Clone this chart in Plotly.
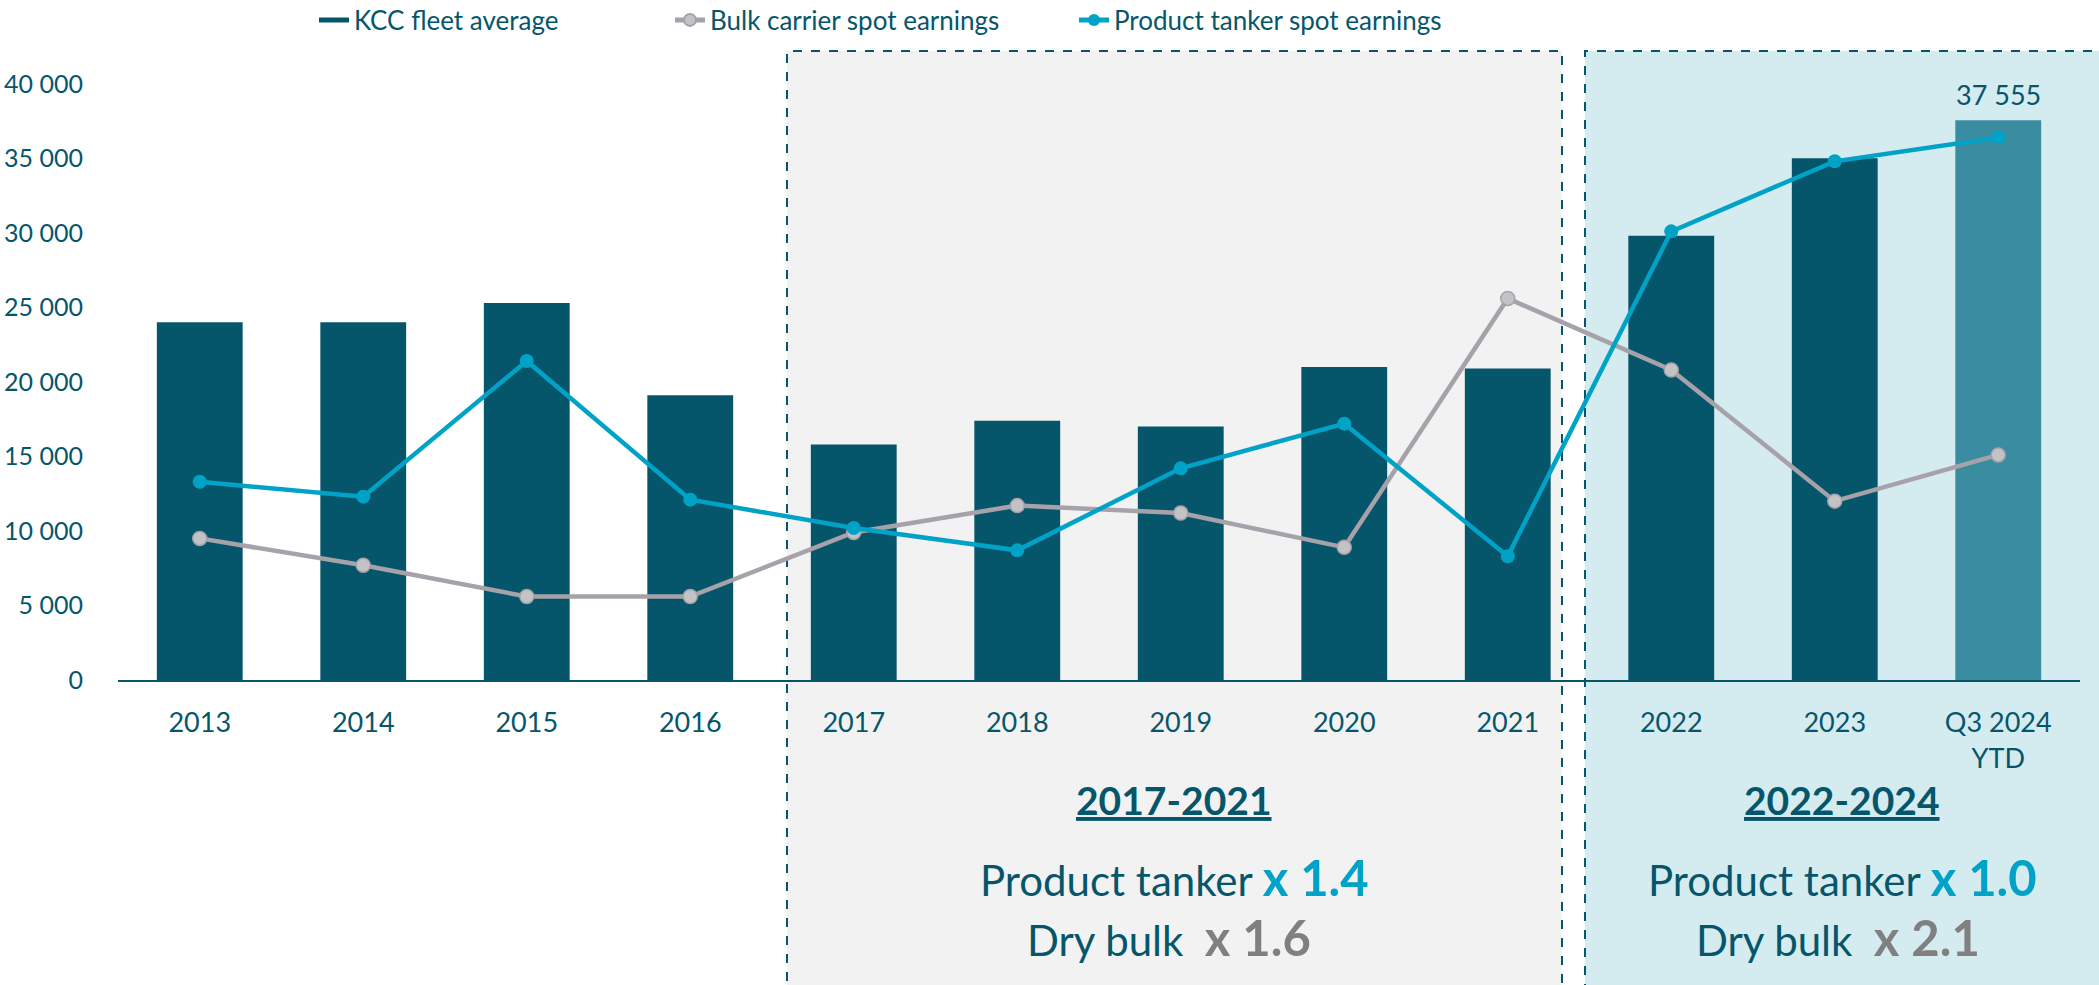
import plotly.graph_objects as go

categories = ["2013", "2014", "2015", "2016", "2017", "2018", "2019", "2020", "2021", "2022", "2023", "Q3 2024<br>YTD"]
kcc_fleet = [24000, 24000, 25300, 19100, 15800, 17400, 17000, 21000, 20900, 29800, 35000, 37555]
bulk_spot = [9500, 7700, 5600, 5600, 9900, 11700, 11200, 8900, 25600, 20800, 12000, 15100]
tanker_spot = [13300, 12300, 21400, 12100, 10200, 8700, 14200, 17200, 8300, 30100, 34800, 36400]

DARK = "#06566b"
LIGHTBAR = "#3a8da0"
CYAN = "#00a3c7"
GREY = "#a7a2aa"
FONT = "Lato, 'Source Sans Pro', sans-serif"

W, H = 2099, 985
L, R, T, B = 118, 19, 54, 305
YMAX = 42000
pw = W - L - R
ph = H - T - B

def px_x(p):
    return (p - L) / pw

def px_y(p):
    return (H - B - p) / ph

fig = go.Figure()
fig.add_trace(go.Bar(
    x=categories, y=kcc_fleet, name="KCC fleet average", showlegend=False,
    marker=dict(color=[DARK] * (len(categories) - 1) + [LIGHTBAR], line=dict(width=0)),
    width=0.525,
))
# legend entry for the bars (wide rectangle swatch)
fig.add_trace(go.Scatter(
    x=[None], y=[None], name="KCC fleet average", mode="lines",
    line=dict(color=DARK, width=18), legend="legend",
))
fig.add_trace(go.Scatter(
    x=categories, y=bulk_spot, name="Bulk carrier spot earnings", mode="lines+markers",
    line=dict(color=GREY, width=4.5),
    marker=dict(size=14, color="#c3c3c6", line=dict(color="#a7a2aa", width=1.5)),
    legend="legend2",
))
fig.add_trace(go.Scatter(
    x=categories, y=tanker_spot, name="Product tanker spot earnings", mode="lines+markers",
    line=dict(color=CYAN, width=4.5),
    marker=dict(size=14, color=CYAN),
    legend="legend3",
))

shapes = [
    dict(type="rect", xref="paper", yref="paper", layer="below",
         x0=px_x(787), x1=px_x(1562), y0=px_y(1000), y1=px_y(51),
         fillcolor="#f2f2f2", line=dict(color=DARK, width=2, dash="dash")),
    dict(type="rect", xref="paper", yref="paper", layer="below",
         x0=px_x(1585), x1=px_x(2120), y0=px_y(1000), y1=px_y(51),
         fillcolor="#d4ebf0", line=dict(color=DARK, width=2, dash="dash")),
]

def box_text(xp, yp, text, size):
    return dict(x=px_x(xp), y=px_y(yp), xref="paper", yref="paper", showarrow=False,
                xanchor="center", yanchor="middle", text=text,
                font=dict(size=size, color=DARK, family=FONT))

def mult(txt, color):
    return f"<span style='color:{color};font-size:49px'><b>{txt}</b></span>"

annotations = [
    dict(x=categories[-1], y=kcc_fleet[-1], xref="x", yref="y",
         text=f"{kcc_fleet[-1]:,}".replace(",", " "), showarrow=False,
         yshift=26, font=dict(size=27, color=DARK, family=FONT)),
    box_text(1174, 800, "<u><b>2017-2021</b></u>", 39),
    box_text(1174, 877, "Product tanker " + mult("x 1.4", CYAN), 42),
    box_text(1169, 937, "Dry bulk  " + mult("x 1.6", "#808080"), 42),
    box_text(1842, 800, "<u><b>2022-2024</b></u>", 39),
    box_text(1842, 877, "Product tanker " + mult("x 1.0", CYAN), 42),
    box_text(1838, 937, "Dry bulk  " + mult("x 2.1", "#808080"), 42),
]

def leg(text_start_px):
    return dict(orientation="h", xref="container", yref="container",
                x=(text_start_px - 44) / W, xanchor="left",
                y=1 - 20 / H, yanchor="middle",
                font=dict(size=26, color=DARK, family=FONT), bgcolor="rgba(0,0,0,0)",
                itemsizing="constant", borderwidth=0)

fig.update_layout(
    width=W, height=H,
    margin=dict(l=L, r=R, t=T, b=B, pad=0, autoexpand=False),
    paper_bgcolor="white", plot_bgcolor="rgba(0,0,0,0)",
    separators=", ",
    font=dict(family=FONT, color=DARK, size=24),
    shapes=shapes, annotations=annotations,
    showlegend=True,
    legend=leg(358), legend2=leg(714), legend3=leg(1118),
    xaxis=dict(type="category", range=[-0.5, 11.5], showgrid=False, showline=True,
               linecolor=DARK, linewidth=2, ticks="", tickfont=dict(size=27, color=DARK),
               ticklabelstandoff=18, fixedrange=True),
    yaxis=dict(range=[0, YMAX], tickvals=[0, 5000, 10000, 15000, 20000, 25000, 30000, 35000, 40000],
               tickformat=",d", showgrid=False, zeroline=False, showline=False,
               tickfont=dict(size=25, color=DARK), ticks="", ticklabelstandoff=34),
    bargap=0.475,
)

fig.write_html("out.html")
